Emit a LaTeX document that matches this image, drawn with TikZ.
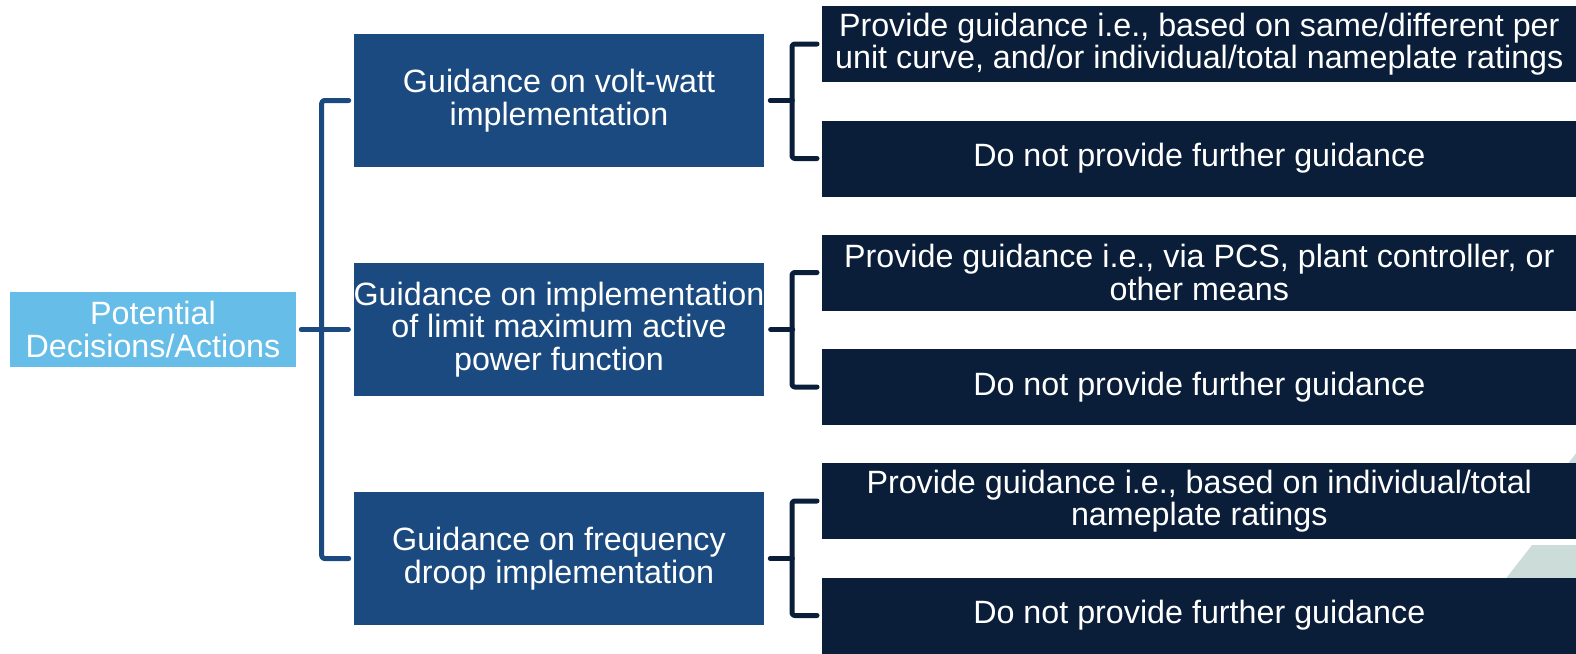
\documentclass[tikz,border=0pt]{standalone}
\usepackage{fontspec}
\setmainfont{Liberation Sans}
\definecolor{lblue}{HTML}{66BDE8}
\definecolor{mblue}{HTML}{1A4A7F}
\definecolor{navy}{HTML}{0A1E3A}
\definecolor{paleteal}{HTML}{CBDCD9}
\begin{document}
\begin{tikzpicture}[x=0.75pt,y=-0.75pt,line join=round,line cap=round]
	\tikzset{every node/.style={text=white,font=\fontsize{24.2}{24.5}\selectfont,align=center,inner sep=0pt}}
	\tikzset{lvlzero/.style={fill=lblue,minimum width=214.5pt,minimum height=56.25pt},
		lvlone/.style={fill=mblue,minimum width=307.5pt,minimum height=99.75pt},
		lvltwo/.style={fill=navy,minimum width=565.5pt,minimum height=57pt,anchor=west},
		lbr/.style={draw=mblue,line width=3.75pt,rounded corners=2pt},
		rbr/.style={draw=navy,line width=3.75pt,rounded corners=2pt}}
	\useasboundingbox (0,0) rectangle (1576,653);
	% background slants
	\fill[paleteal] (1532,545)--(1590,545)--(1590,590)--(1497,590)--cycle;
	\fill[paleteal] (1577,452)--(1590,452)--(1590,470)--(1563,470)--cycle;
	\node[lvlzero] (pda) at (153,329.5) {Potential\\Decisions/Actions};
	\node[lvlone] (g1) at (559,100.5) {Guidance on volt-watt\\implementation};
	\node[lvlone] (g2) at (559,329.5) {Guidance on implementation\\of limit maximum active\\power function};
	\node[lvlone] (g3) at (559,558.5) {Guidance on frequency\\droop implementation};
	\node[lvltwo] (r1) at (822,44) {Provide guidance i.e., based on same/different per\\unit curve, and/or individual/total nameplate ratings};
	\node[lvltwo] (r3) at (822,272.5) {Provide guidance i.e., via PCS, plant controller, or\\other means};
	\node[lvltwo] (r5) at (822,501) {Provide guidance i.e., based on individual/total\\nameplate ratings};
	\foreach \i/\y in {2/158.5,4/387,6/615.5}
	\node[lvltwo] (r\i) at (822,\y) {Do not provide further guidance};
	% brackets
	\draw[lbr] ([shift={(5,0)}]pda.east)--([shift={(-5,0)}]g2.west);
	\draw[lbr] ([shift={(-5,0)}]g1.west) -| ([shift={(-32,0)}]g3.west)--([shift={(-5,0)}]g3.west);
	\foreach \i/\a/\b in {1/1/2,2/3/4,3/5/6}{
		\draw[rbr] ([shift={(6,0)}]g\i.east)--([shift={(28,0)}]g\i.east);
		\draw[rbr] ([shift={(-5,0)}]r\a.west) -| ([shift={(-30,0)}]r\b.west)--([shift={(-5,0)}]r\b.west);
	}
\end{tikzpicture}
\end{document}
